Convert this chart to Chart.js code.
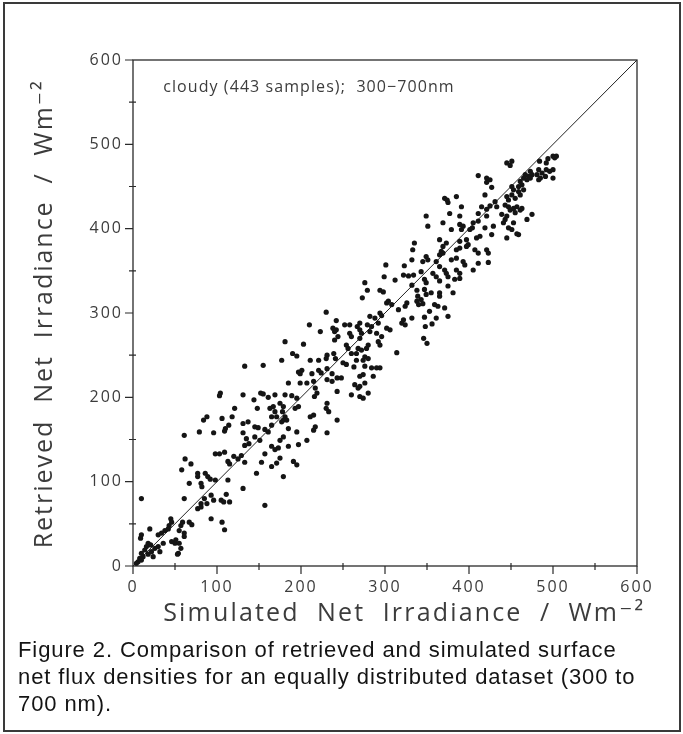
<!DOCTYPE html>
<html><head><meta charset="utf-8">
<script src="https://cdn.jsdelivr.net/npm/chart.js@4.4.0/dist/chart.umd.min.js"></script>
<style>
html,body{margin:0;padding:0;background:#fff;}
#wrap{position:relative;width:683px;height:734px;overflow:hidden;background:#fff;}
#frame{position:absolute;left:3px;top:2px;width:674px;height:726px;border:2px solid #3a3a3a;}
canvas{position:absolute;left:0;top:0;}
#cap{position:absolute;left:18px;top:636px;font-family:"Liberation Sans",Arial,sans-serif;font-size:22px;letter-spacing:0.9px;line-height:27px;color:#141414;white-space:nowrap;}
</style></head><body>
<div id="wrap"><div id="frame"></div><canvas id="c" width="683" height="640"></canvas>
<div id="cap">Figure 2. Comparison of retrieved and simulated surface<br>net flux densities for an equally distributed dataset (300 to<br>700 nm).</div></div>
<script>
// Simulated net irradiance (x) and retrieved net irradiance (y), W m-2
const simulated = [
61,79,96,109,131,135,145,138,133,151, 157,153,98,103,109,120,129,133,125,115,
113,62,69,58,77,77,86,89,92,98, 81,82,67,147,131,113,10,61,93,96,
105,108,115,111,85,81,77,81,88,157, 93,106,109,45,46,43,57,59,55,67,
70,61,38,34,30,42,20,10,9,46, 50,51,55,61,57,54,18,16,21,26,
30,32,36,10,12,8,18,22,24,14, 6,10,4,53,
181,203,190,195,177,211,221,231,230,239, 241,133,155,197,201,199,213,221,224,231,
237,185,199,207,215,231,237,243,217,219, 216,243,231,230,233,104,103,131,144,152,
155,161,169,181,189,195,175,148,163,167, 169,165,171,179,178,181,179,183,177,193,
197,211,215,243,121,88,84,106,118,131, 137,114,110,145,149,157,165,161,185,195,
217,215,231,179,175,165,169,173,207,185, 197,175,171,165,191,195,179,
301,323,322,328,334,299,276,279,294,298, 312,332,338,339,273,302,304,308,326,324,
338,340,316,230,294,296,282,288,322,320, 324,332,242,252,258,270,267,270,279,284,
292,302,306,238,240,242,210,223,244,240, 258,260,272,270,282,290,296,280,278,268,
272,266,292,294,314,254,256,260,276,280, 274,266,250,254,276,284,290,294,263,274,
270,286,248,264,268,270,276,280,270,274, 260,
421,427,371,375,374,385,419,431,433,349, 377,391,415,421,425,411,421,351,369,389,
389,393,391,405,404,401,419,429,427,411, 379,365,389,397,399,409,413,335,373,369,
385,389,397,407,411,421,423,367,369,365, 349,351,333,332,361,365,379,385,393,395,
411,423,345,357,361,343,371,373,375,385, 389,405,365,347,349,383,389,375,347,349,
355,365,365,381,343,345,359,363,371,375, 353,361,347,348,356,346,350,
500,504,502,494,484,492,492,496,483,487, 445,449,451,473,475,471,473,467,465,469,
461,463,459,481,483,485,491,500,500,411, 421,425,451,453,445,447,451,455,459,461,
465,443,447,449,453,457,461,463,439,443, 445,441,455,475,447,453,469,459,457,451,
445
];
const retrieved = [
155,159,158,160,158,151,153,145,143,149, 133,123,133,133,135,130,131,123,127,121,
124,127,121,114,110,106,110,106,103,102, 98,94,98,110,92,102,80,80,84,78,
78,76,76,85,80,74,68,70,74,72, 56,52,43,56,52,48,48,52,42,52,
49,39,42,39,37,44,44,37,33,29, 27,31,27,35,21,15,27,23,25,21,
23,17,27,15,11,9,14,17,11,19, 5,7,3,14,
266,263,252,249,244,244,244,250,246,252, 246,237,238,230,232,228,228,232,229,234,
228,217,217,217,219,221,219,223,211,205, 201,207,193,187,183,205,202,203,197,205,
204,200,203,203,202,199,193,187,187,189, 183,177,177,189,183,177,173,173,171,187,
189,177,179,173,187,177,173,175,177,169, 171,167,163,165,164,162,167,159,163,159,
165,161,158,153,149,142,138,140,149,142, 144,128,122,118,124,120,106,
357,356,345,344,345,343,336,327,327,325, 339,333,327,320,318,312,314,310,312,308,
314,310,304,301,300,297,296,294,292,288, 286,294,291,286,286,288,284,280,286,284,
288,282,280,282,278,280,286,278,272,268, 276,272,276,270,278,276,272,262,258,258,
256,252,266,262,253,262,258,252,248,246, 244,244,241,239,237,235,235,235,236,227,
225,225,223,215,211,213,217,205,201,199, 203,
455,449,436,431,434,438,440,432,426,415, 418,426,426,423,427,418,415,403,407,415,
405,403,399,407,401,399,401,403,393,409, 399,387,385,387,381,389,391,383,383,379,
375,377,379,375,371,375,371,373,371,369, 367,363,375,363,361,355,363,365,361,357,
359,360,361,347,343,349,351,347,343,351, 347,351,338,340,336,340,341,332,328,322,
324,324,320,324,316,311,310,308,306,296, 302,294,295,284,287,270,264,
486,486,484,483,480,478,470,468,470,466, 478,475,480,468,464,462,460,464,460,458,
456,452,450,464,458,460,462,460,470,463, 460,458,450,446,438,434,440,436,444,440,
446,428,426,422,424,426,422,424,417,411, 415,407,419,417,401,407,411,393,394,399,
389
];
const oneToOne = [0, 600];                  // 1:1 reference line end values
const majorTicks = [0,100,200,300,400,500,600];
const minorTicks = [50,150,250,350,450,550];
const axisMin = 0, axisMax = 600;
const xTitle = 'Simulated  Net  Irradiance  /  Wm\u207B\u00B2';
const yTitle = 'Retrieved  Net  Irradiance  /  Wm\u207B\u00B2';
const note = 'cloudy (443 samples);  300\u2212700nm';

const axisFont = "'Open Sans','DejaVu Sans',sans-serif";
const ink = '#3c3c3c';

const points = simulated.map((v, i) => ({x: v, y: retrieved[i]}));
const line = oneToOne.map(v => ({x: v, y: v}));

// draw text stretched (letter spacing) to span a given width
function spanText(ctx, text, width) {
  ctx.letterSpacing = '0px';
  const w0 = ctx.measureText(text).width;
  ctx.letterSpacing = Math.max(0, (width - w0) / text.length) + 'px';
}

const decor = {
  id: 'decor',
  beforeDraw(chart) { chart.ctx.letterSpacing = '2px'; },
  afterDraw(chart) {
    const {ctx, chartArea: a, scales: {x, y}} = chart;
    ctx.save();
    ctx.strokeStyle = '#2a2a2a';
    ctx.lineWidth = 1.3;
    ctx.strokeRect(a.left, a.top, a.right - a.left, a.bottom - a.top);
    ctx.lineWidth = 1.2;
    ctx.beginPath();
    for (const v of majorTicks) {
      const px = x.getPixelForValue(v), py = y.getPixelForValue(v);
      ctx.moveTo(px, a.bottom); ctx.lineTo(px, a.bottom + 8);
      ctx.moveTo(a.left - 8, py); ctx.lineTo(a.left, py);
    }
    for (const v of minorTicks) {
      const px = x.getPixelForValue(v), py = y.getPixelForValue(v);
      ctx.moveTo(px, a.bottom - 3); ctx.lineTo(px, a.bottom + 4);
      ctx.moveTo(a.left - 4, py); ctx.lineTo(a.left + 3, py);
    }
    ctx.stroke();
    ctx.fillStyle = ink;
    ctx.textBaseline = 'middle';
    ctx.textAlign = 'left';
    // annotation
    ctx.font = "16px " + axisFont;
    spanText(ctx, note, x.getPixelForValue(383) - x.getPixelForValue(36));
    ctx.fillText(note, x.getPixelForValue(36), y.getPixelForValue(567));
    // x title
    ctx.font = "25px " + axisFont;
    const x0 = x.getPixelForValue(36), x1 = x.getPixelForValue(610);
    spanText(ctx, xTitle, x1 - x0);
    ctx.fillText(xTitle, x0, a.bottom + 48);
    // y title
    const y0 = y.getPixelForValue(21), y1 = y.getPixelForValue(577);
    ctx.save();
    ctx.translate(a.left - 88, y0);
    ctx.rotate(-Math.PI / 2);
    spanText(ctx, yTitle, y0 - y1);
    ctx.fillText(yTitle, 0, 0);
    ctx.restore();
    ctx.restore();
  }
};

new Chart(document.getElementById('c'), {
  type: 'scatter',
  data: {
    datasets: [
      {type: 'line', data: line, borderColor: '#222', borderWidth: 1, pointRadius: 0, fill: false, order: 2},
      {data: points, pointRadius: 2.6, pointHoverRadius: 2.6, backgroundColor: '#151515', borderWidth: 0, order: 1}
    ]
  },
  options: {
    responsive: false,
    animation: false,
    events: [],
    layout: {padding: {left: 0, top: 60, right: 46, bottom: 0}},
    plugins: {legend: {display: false}, tooltip: {enabled: false}},
    scales: {
      x: {
        type: 'linear', min: axisMin, max: axisMax,
        afterFit(s) { s.height = 74; },
        border: {display: false},
        grid: {display: false, drawTicks: false},
        ticks: {stepSize: 50, padding: 12, color: ink, maxRotation: 0,
          font: {family: axisFont, size: 16},
          callback: v => majorTicks.includes(v) ? String(v) : ''},
        title: {display: false}
      },
      y: {
        type: 'linear', min: axisMin, max: axisMax,
        afterFit(s) { s.width = 133; },
        border: {display: false},
        grid: {display: false, drawTicks: false},
        ticks: {stepSize: 50, padding: 10, color: ink,
          font: {family: axisFont, size: 16},
          callback: v => majorTicks.includes(v) ? String(v) : ''},
        title: {display: false}
      }
    }
  },
  plugins: [decor]
});
</script>
</body></html>
